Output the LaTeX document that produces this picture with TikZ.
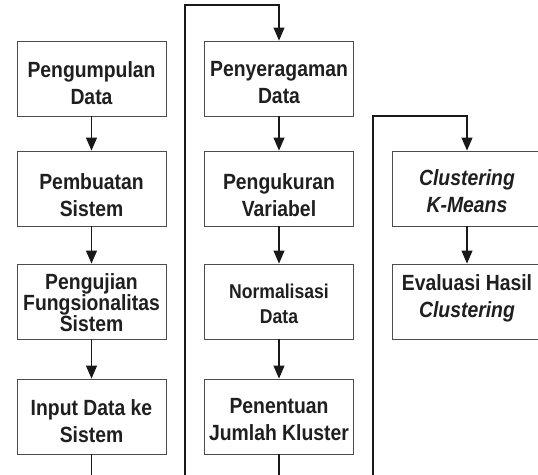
\documentclass[tikz,border=0pt]{standalone}
\usepackage{fontspec}
\setmainfont{Liberation Sans}[FakeStretch=0.88]
\usetikzlibrary{arrows.meta}
\begin{document}
\begin{tikzpicture}[x=1pt,y=1pt,
  boxst/.style={draw=black!70, line width=0.9pt, minimum width=149pt, minimum height=75pt, inner sep=0pt},
  txt/.style={align=center, font=\fontsize{22}{27}\selectfont\bfseries, text=black!88, inner sep=0pt},
  txttight/.style={txt, font=\fontsize{22}{21}\selectfont\bfseries},
  txtsmall/.style={txt, font=\fontsize{20}{25}\selectfont\bfseries},
  conn/.style={line width=1.1pt, draw=black!90},
  arr/.style={conn, -{Triangle[length=13pt,width=11pt]}}]
\clip (0,0) rectangle (538,474);
\fill[white] (0,0) rectangle (538,474);
% left column
\node[boxst] (L1) at (91.5,395.5) {};
\node[boxst] (L2) at (91.5,285.5) {};
\node[boxst] (L3) at (91.5,172.5) {};
\node[boxst] (L4) at (91.5,57.5) {};
\node[txt] (L1t) at ([yshift=-5pt]L1.center) {Pengumpulan\\Data};
\node[txt] (L2t) at ([yshift=-7pt]L2.center) {Pembuatan\\Sistem};
\node[txttight] (L3t) at ([yshift=-1.5pt]L3.center) {Pengujian\\Fungsionalitas\\Sistem};
\node[txt] (L4t) at ([yshift=-4.5pt]L4.center) {Input Data ke\\Sistem};
% middle column
\node[boxst] (M1) at (279,395.5) {};
\node[boxst] (M2) at (279,285.5) {};
\node[boxst] (M3) at (279,172.5) {};
\node[boxst] (M4) at (279,57.5) {};
\node[txt] (M1t) at ([yshift=-4.5pt]M1.center) {Penyeragaman\\Data};
\node[txt] (M2t) at ([yshift=-6.5pt]M2.center) {Pengukuran\\Variabel};
\node[txtsmall] (M3t) at ([yshift=-2.5pt]M3.center) {Normalisasi\\Data};
\node[txt] (M4t) at ([yshift=-3.5pt]M4.center) {Penentuan\\Jumlah Kluster};
% right column
\node[boxst] (R1) at (467,285.5) {};
\node[boxst] (R2) at (467,172.5) {};
\node[txt] (R1t) at ([yshift=-3pt]R1.center) {\itshape Clustering\\\itshape K-Means};
\node[txt] (R2t) at ([yshift=3.5pt]R2.center) {Evaluasi Hasil\\\itshape Clustering};
% connectors
\coordinate (turnA) at (185,469);
\coordinate (turnB) at (373,358);
\draw[arr] (L1.south) -- (L2.north);
\draw[arr] (L2.south) -- (L3.north);
\draw[arr] (L3.south) -- (L4.north);
\draw[arr] (L4.south) -- ++(0,-30) -| (turnA) -| (M1.north);
\draw[arr] (M1.south) -- (M2.north);
\draw[arr] (M2.south) -- (M3.north);
\draw[arr] (M3.south) -- (M4.north);
\draw[arr] (M4.south) -- ++(0,-30) -| (turnB) -| (R1.north);
\draw[arr] (R1.south) -- (R2.north);
\end{tikzpicture}
\end{document}
